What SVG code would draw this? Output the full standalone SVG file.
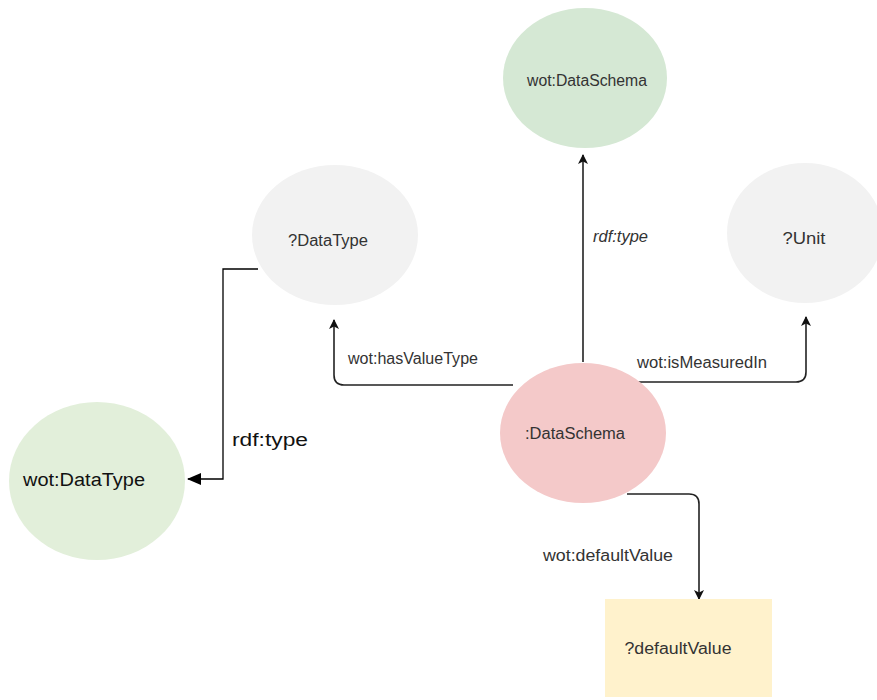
<svg xmlns="http://www.w3.org/2000/svg" width="877" height="700" viewBox="0 0 877 700">
<style>
.lbl{font-family:"Liberation Sans",Arial,sans-serif;font-size:16px;fill:#333;}
.cal{font-family:"Liberation Sans",Arial,sans-serif;font-size:18px;fill:#111;}
.edge{fill:none;stroke:#222;stroke-width:1.6;}
</style>
<defs>
<marker id="arr" markerWidth="10" markerHeight="10" refX="9" refY="5" orient="auto" markerUnits="userSpaceOnUse">
<path d="M0,0 L10,5 L0,10 L2.5,5 Z" fill="#111"/>
</marker>
<marker id="arr2" markerWidth="14" markerHeight="12" refX="13" refY="6" orient="auto" markerUnits="userSpaceOnUse">
<path d="M0,0 L14,6 L0,12 Z" fill="#000"/>
</marker>
</defs>
<rect width="877" height="700" fill="#ffffff"/>
<g id="connectors">
<path class="edge" d="M583,362 L583,155" marker-end="url(#arr)"/>
<path class="edge" d="M513,385 L344,385 Q334,385 334,375 L334,320" marker-end="url(#arr)"/>
<path class="edge" d="M625,382 L796,382 Q806,382 806,372 L806,317" marker-end="url(#arr)"/>
<path class="edge" d="M627,494 L689,494 Q699,494 699,504 L699,599" marker-end="url(#arr)"/>
<path d="M258,269 L223,269 L223,479 L188,479" fill="none" stroke="#000" stroke-width="1.3" marker-end="url(#arr2)"/>
<text class="lbl" x="593" y="242" font-style="italic" textLength="55" lengthAdjust="spacingAndGlyphs">rdf:type</text>
<text class="lbl" x="348" y="364" textLength="130" lengthAdjust="spacingAndGlyphs">wot:hasValueType</text>
<text class="lbl" x="637" y="368" textLength="130" lengthAdjust="spacingAndGlyphs">wot:isMeasuredIn</text>
<text class="lbl" x="543" y="561" textLength="130" lengthAdjust="spacingAndGlyphs">wot:defaultValue</text>
<text class="cal" x="232" y="446" textLength="76" lengthAdjust="spacingAndGlyphs">rdf:type</text>
</g>
<g id="wotDataSchema">
<ellipse cx="585" cy="78" rx="82" ry="70" fill="#d5e8d4"/>
<text class="lbl" x="587" y="80" text-anchor="middle" dominant-baseline="central" textLength="120" lengthAdjust="spacingAndGlyphs">wot:DataSchema</text>
</g>
<g id="qDataType">
<ellipse cx="335" cy="235" rx="83" ry="70" fill="#f2f2f2"/>
<text class="lbl" x="328" y="240" text-anchor="middle" dominant-baseline="central" textLength="80" lengthAdjust="spacingAndGlyphs">?DataType</text>
</g>
<g id="qUnit">
<ellipse cx="805" cy="233" rx="78" ry="70" fill="#f2f2f2"/>
<text class="lbl" x="804" y="238" text-anchor="middle" dominant-baseline="central" textLength="43" lengthAdjust="spacingAndGlyphs">?Unit</text>
</g>
<g id="dataSchema">
<ellipse cx="583" cy="433" rx="83" ry="70" fill="#f4c9c9"/>
<text class="lbl" x="575" y="433" text-anchor="middle" dominant-baseline="central" textLength="100" lengthAdjust="spacingAndGlyphs">:DataSchema</text>
</g>
<g id="wotDataType">
<ellipse cx="97" cy="481" rx="88" ry="79" fill="#e2efda"/>
<text class="cal" x="84" y="480" text-anchor="middle" dominant-baseline="central" textLength="122" lengthAdjust="spacingAndGlyphs">wot:DataType</text>
</g>
<g id="defaultValue">
<rect x="605" y="599" width="167" height="98" fill="#fff2cc"/>
<text class="lbl" x="678" y="648" text-anchor="middle" dominant-baseline="central" textLength="107" lengthAdjust="spacingAndGlyphs">?defaultValue</text>
</g>
</svg>
